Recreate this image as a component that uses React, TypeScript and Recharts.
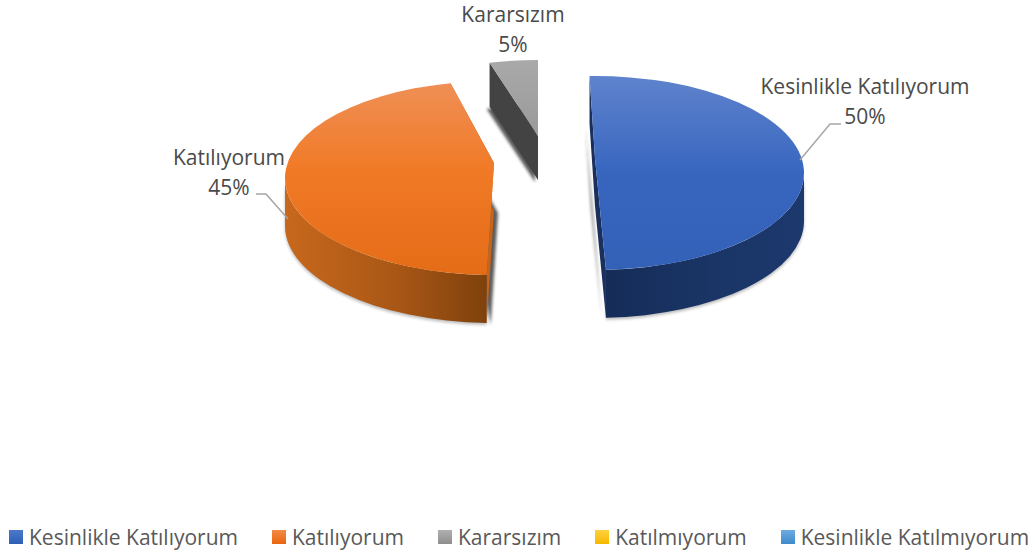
import React from 'react';
import { PieChart, Pie, Legend } from 'recharts';

const categories = ['Kesinlikle Katılıyorum', 'Katılıyorum', 'Kararsızım', 'Katılmıyorum', 'Kesinlikle Katılmıyorum'];
const values = [50, 45, 5, 0, 0];
const colors = ['#3f6cc4', '#ee7724', '#a3a3a3', '#ffc000', '#5b9bd5'];
const legendShades = ['#4d79cb,#2f5fb5', '#f28a47,#e9660f', '#b0b0b0,#8e8e8e', '#ffd23f,#f5b800', '#6cabe0,#3f8acb'];

const chartData = categories.map((name, i) => ({ name, value: values[i], fill: colors[i] }));

const WIDTH = 1035;
const HEIGHT = 557;
const FONT = '"Open Sans", sans-serif';
const FONT_SIZE = 21;
const SQUASH = 0.464; // pie tilt, ellipse height / width
const RADIUS = 209;

// exploded 3d look, per slice: offset from pie centre, lift of the tip, wall depth, perspective trim of the angles
const slices = [
  { dx: 55, dy: 3, lift: 15, depth: 48, trimStart: -1.5, trimEnd: -3, cut: '#1a2f5c', shadowDx: -4 },
  { dx: -46, dy: 8, lift: 15, depth: 48, trimStart: 2, trimEnd: 6, cut: '#c4651b', shadowDx: 4 },
  { dx: -2, dy: -13, lift: 21, depth: 44, trimStart: 4.6, trimEnd: 0, cut: '#434343', shadowDx: -3 },
];

const labels = [
  { x: 865, y: 94, line: '800,160 830,124 841,124' },
  { x: 229, y: 165, line: '288,219 266,194 256,194' },
  { x: 513, y: 22, line: '' },
];

const rad = (deg: number) => (deg * Math.PI) / 180;

const SliceShape = (props: any) => {
  const { cx, cy, startAngle, endAngle, index } = props;
  const s = slices[index];
  if (!s || startAngle === endAngle) return null;

  // recharts angles run counter clockwise from 3 o'clock, here clockwise from the top
  const from = 90 - startAngle + s.trimStart;
  const to = 90 - endAngle + s.trimEnd;
  const ox = cx + s.dx;
  const oy = cy + s.dy;
  const rx = RADIUS;
  const ry = RADIUS * SQUASH;
  const pt = (t: number, down = 0) => `${ox + rx * Math.sin(rad(t))} ${oy - ry * Math.cos(rad(t)) + down}`;
  const arc = (a: number, b: number, down = 0, sweep = 1) =>
    `A ${rx} ${ry} 0 ${Math.abs(b - a) > 180 ? 1 : 0} ${sweep} ${pt(b, down)}`;
  const tip = (down = 0) => `${ox} ${oy - s.lift + down}`;

  const top = `M ${tip()} L ${pt(from)} ${arc(from, to)} Z`;
  const cutWall = `M ${pt(from)} L ${tip()} L ${pt(to)} L ${pt(to, s.depth)} L ${tip(s.depth)} L ${pt(from, s.depth)} Z`;
  // only the foot of the wall throws a shadow
  const foot = `M ${pt(from, s.depth)} L ${tip(s.depth)} L ${pt(to, s.depth)} Z`;
  const a = Math.max(from, 90);
  const b = Math.min(to, 270);
  const front = a < b ? `M ${pt(a)} ${arc(a, b)} L ${pt(b, s.depth)} ${arc(b, a, s.depth, 0)} Z` : null;

  return (
    <g>
      <path d={foot} fill="#333" opacity={0.8} filter="url(#soft)" transform={`translate(${s.shadowDx} 2)`} />
      {front && <path d={front} fill="#555" opacity={0.4} filter="url(#soft)" transform="translate(0 2)" />}
      <path d={cutWall} fill={s.cut} />
      {front && <path d={front} fill={`url(#wall${index})`} />}
      <path d={top} fill={`url(#top${index})`} />
    </g>
  );
};

const renderLabel = (props: any) => {
  const { index, name, value } = props;
  const l = labels[index];
  if (!l || !value) return null;
  const total = values.reduce((sum, v) => sum + v, 0);
  return (
    <g>
      {l.line && <polyline points={l.line} fill="none" stroke="#a6a6a6" strokeWidth={1.5} />}
      <text x={l.x} y={l.y} textAnchor="middle" fontFamily={FONT} fontSize={FONT_SIZE} fill="#4a4a4a">{name}</text>
      <text x={l.x} y={l.y + 30} textAnchor="middle" fontFamily={FONT} fontSize={FONT_SIZE} fill="#4a4a4a">
        {`${Math.round((value / total) * 100)}%`}
      </text>
    </g>
  );
};

const renderLegend = (props: any) => (
  <div style={{ display: 'flex', gap: 34, fontFamily: FONT, fontSize: FONT_SIZE, color: '#595959', lineHeight: '24px' }}>
    {(props.payload || []).map((item: any, i: number) => (
      <div key={item.value} style={{ display: 'flex', alignItems: 'center', gap: 6, whiteSpace: 'nowrap' }}>
        <span style={{ width: 14, height: 14, background: `linear-gradient(${legendShades[i]})` }} />
        {item.value}
      </div>
    ))}
  </div>
);

export default function App() {
  return (
    <div style={{ position: 'absolute', left: 0, top: 0, width: WIDTH, height: HEIGHT, background: '#fff' }}>
      <PieChart width={WIDTH} height={HEIGHT} margin={{ top: 0, right: 0, bottom: 0, left: 0 }}>
        <defs>
          <filter id="soft" x="-30%" y="-30%" width="160%" height="160%">
            <feGaussianBlur stdDeviation="1.4" />
          </filter>
          <linearGradient id="top0" x1="0" y1="0" x2="0" y2="1">
            <stop offset="0%" stopColor="#5f83cd" />
            <stop offset="50%" stopColor="#3866bf" />
            <stop offset="100%" stopColor="#3361b8" />
          </linearGradient>
          <linearGradient id="top1" x1="0" y1="0" x2="0" y2="1">
            <stop offset="0%" stopColor="#ef8f55" />
            <stop offset="45%" stopColor="#f17a27" />
            <stop offset="100%" stopColor="#e56c17" />
          </linearGradient>
          <linearGradient id="top2" x1="0" y1="0" x2="0" y2="1">
            <stop offset="0%" stopColor="#a9a9a9" />
            <stop offset="100%" stopColor="#9a9a9a" />
          </linearGradient>
          <linearGradient id="wall0" x1="0" y1="0" x2="1" y2="0">
            <stop offset="0%" stopColor="#152c58" />
            <stop offset="55%" stopColor="#1a3566" />
            <stop offset="100%" stopColor="#1c386d" />
          </linearGradient>
          <linearGradient id="wall1" x1="0" y1="0" x2="1" y2="0">
            <stop offset="0%" stopColor="#c7681c" />
            <stop offset="55%" stopColor="#a95716" />
            <stop offset="100%" stopColor="#7f410c" />
          </linearGradient>
        </defs>
        <Pie
          data={chartData}
          dataKey="value"
          nameKey="name"
          cx={540}
          cy={170}
          outerRadius={RADIUS}
          startAngle={90}
          endAngle={-270}
          stroke="none"
          shape={SliceShape}
          label={renderLabel}
          labelLine={false}
          isAnimationActive={false}
        />
        <Legend
          content={renderLegend}
          itemSorter={null}
          verticalAlign="bottom"
          wrapperStyle={{ left: 9, bottom: 8, width: 'auto' }}
        />
      </PieChart>
    </div>
  );
}
